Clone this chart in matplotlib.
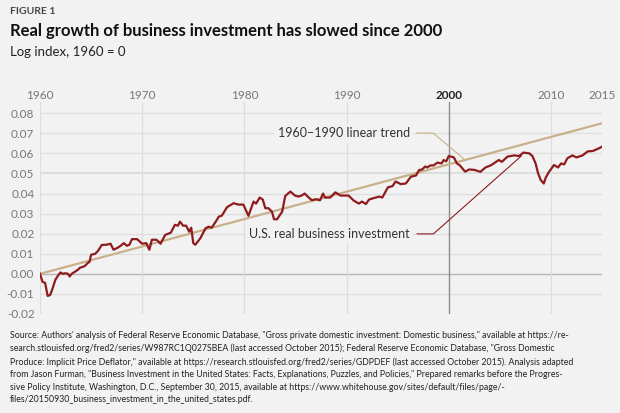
import matplotlib
matplotlib.use("Agg")
import matplotlib.pyplot as plt

plt.rcParams.update({
    "font.family": ["Lato", "DejaVu Sans"],
})

BG = "#f2f2f2"
RED = "#8e1b1e"
TAN = "#c9b08b"
GRID = "#dddddd"

# U.S. real business investment, log index (1960 = 0)
YEARS = [
    1960.0, 1960.25, 1960.5, 1960.75, 1961.0, 1961.25, 1961.5, 1961.75,
    1962.0, 1962.25, 1962.5, 1962.75, 1962.9, 1963.1, 1963.4, 1963.7,
    1963.9, 1964.2, 1964.4, 1964.7, 1964.85, 1965.0, 1965.4, 1965.7,
    1966.05, 1966.5, 1966.9, 1967.2, 1967.6, 1967.9, 1968.2, 1968.5,
    1968.75, 1969.0, 1969.5, 1970.0, 1970.4, 1970.7, 1970.95, 1971.4,
    1971.8, 1972.25, 1972.8, 1973.2, 1973.5, 1973.7, 1974.0, 1974.3,
    1974.5, 1974.6, 1974.8, 1975.0, 1975.2, 1975.5, 1975.7, 1976.2,
    1976.5, 1976.8, 1977.2, 1977.5, 1977.8, 1978.3, 1978.95, 1979.4,
    1979.9, 1980.4, 1980.9, 1981.15, 1981.5, 1981.8, 1982.05, 1982.35,
    1982.7, 1982.9, 1983.2, 1983.7, 1984.0, 1984.5, 1984.95, 1985.3,
    1985.6, 1985.9, 1986.2, 1986.6, 1987.0, 1987.4, 1987.7, 1987.9,
    1988.4, 1988.9, 1989.4, 1990.2, 1990.7, 1991.2, 1991.5, 1991.9,
    1992.2, 1992.7, 1993.2, 1993.5, 1994.05, 1994.5, 1994.8, 1995.3,
    1995.8, 1996.3, 1996.8, 1997.1, 1997.4, 1997.7, 1997.9, 1998.2,
    1998.5, 1998.9, 1999.3, 1999.5, 1999.75, 2000.0, 2000.5, 2000.8,
    2001.1, 2001.6, 2002.0, 2002.5, 2003.1, 2003.6, 2004.1, 2004.4,
    2004.9, 2005.2, 2005.75, 2006.4, 2006.9, 2007.3, 2007.9, 2008.2,
    2008.5, 2008.75, 2009.0, 2009.3, 2009.5, 2009.8, 2010.3, 2010.7,
    2011.0, 2011.3, 2011.6, 2012.1, 2012.5, 2013.1, 2013.6, 2014.1,
    2014.6, 2015.0,
]
INVEST = [
    0.000, -0.004, -0.0045, -0.011, -0.0105, -0.007, -0.003, -0.001,
    0.0007, 0.000, 0.0003, 0.000, -0.0013, 0.000, 0.001, 0.002,
    0.003, 0.0035, 0.004, 0.0055, 0.006, 0.0095, 0.010, 0.0116,
    0.0144, 0.0145, 0.015, 0.012, 0.013, 0.014, 0.0153, 0.014,
    0.0145, 0.0173, 0.0173, 0.015, 0.0153, 0.012, 0.017, 0.017,
    0.015, 0.0194, 0.0205, 0.0244, 0.024, 0.026, 0.024, 0.024,
    0.022, 0.021, 0.023, 0.0153, 0.0145, 0.0165, 0.0178, 0.0227,
    0.0235, 0.023, 0.026, 0.0285, 0.029, 0.0332, 0.0352, 0.0345,
    0.0345, 0.0289, 0.036, 0.035, 0.038, 0.037, 0.0327, 0.0327,
    0.031, 0.0272, 0.0272, 0.031, 0.0388, 0.041, 0.039, 0.0385,
    0.039, 0.040, 0.0385, 0.0367, 0.0372, 0.0366, 0.040, 0.038,
    0.038, 0.0406, 0.039, 0.039, 0.0365, 0.035, 0.036, 0.0348,
    0.037, 0.0378, 0.0385, 0.038, 0.0431, 0.0437, 0.046, 0.0447,
    0.045, 0.0484, 0.049, 0.0517, 0.052, 0.0535, 0.053, 0.054,
    0.054, 0.0554, 0.055, 0.0567, 0.056, 0.0587, 0.058, 0.055,
    0.054, 0.0509, 0.052, 0.0518, 0.0508, 0.053, 0.054, 0.055,
    0.0567, 0.0558, 0.0584, 0.059, 0.0587, 0.0604, 0.060, 0.0586,
    0.055, 0.050, 0.0468, 0.045, 0.048, 0.0507, 0.0542, 0.053,
    0.055, 0.0545, 0.0575, 0.059, 0.058, 0.059, 0.061, 0.0612,
    0.0623, 0.0633,
]

# 1960-1990 linear trend, extended to 2015
TREND_YEARS = [1960, 2015]
TREND = [0.0, 0.075]

X_TICKS = [1960, 1970, 1980, 1990, 2000, 2010, 2015]
Y_TICKS = [-0.02, -0.01, 0.00, 0.01, 0.02, 0.03, 0.04, 0.05, 0.06, 0.07, 0.08]

SOURCE = (
    "Source: Authors' analysis of Federal Reserve Economic Database, \"Gross private domestic investment: Domestic business,\" available at https://re-\n"
    "search.stlouisfed.org/fred2/series/W987RC1Q027SBEA (last accessed October 2015); Federal Reserve Economic Database, \"Gross Domestic\n"
    "Produce: Implicit Price Deflator,\" available at https://research.stlouisfed.org/fred2/series/GDPDEF (last accessed October 2015). Analysis adapted\n"
    "from Jason Furman, \"Business Investment in the United States: Facts, Explanations, Puzzles, and Policies,\" Prepared remarks before the Progres-\n"
    "sive Policy Institute, Washington, D.C., September 30, 2015, available at https://www.whitehouse.gov/sites/default/files/page/-\n"
    "files/20150930_business_investment_in_the_united_states.pdf."
)

fig = plt.figure(figsize=(6.2, 4.13), dpi=100, facecolor=BG)
ax = fig.add_axes([40 / 620, 1 - 314 / 413, 562 / 620, 212 / 413])
ax.set_facecolor(BG)

ax.set_xlim(1960, 2015)
ax.set_ylim(-0.02, 0.0856)

# grid
for y in Y_TICKS:
    if y == 0:
        ax.axhline(y, color="#b5b5b5", lw=1.0, zorder=1)
    else:
        ax.axhline(y, color=GRID, lw=1.4 if abs(y - 0.05) < 1e-9 else 0.9,
                   zorder=1)
for x in X_TICKS:
    ax.axvline(x, color="#8c8c8c" if x == 2000 else GRID,
               lw=1.0 if x == 2000 else 0.9, zorder=1)

ax.plot(TREND_YEARS, TREND, color=TAN, lw=1.6, zorder=3,
        solid_capstyle="butt")
ax.plot(YEARS, INVEST, color=RED, lw=1.6, zorder=4, solid_joinstyle="round")

# annotations
ax.plot([1996.9, 1998.5, 2001.6], [0.0701, 0.0701, 0.0567], color=TAN,
        lw=0.8, zorder=3)
ax.text(1996.2, 0.0701, "1960\u20131990 linear trend", ha="right",
        va="center", fontsize=9, color="#333333", zorder=5,
        bbox=dict(facecolor=BG, edgecolor="none", pad=2.5))
ax.plot([1996.9, 1998.5, 2007.1], [0.0199, 0.0199, 0.0587], color=RED,
        lw=0.8, zorder=3)
ax.text(1996.2, 0.0199, "U.S. real business investment", ha="right",
        va="center", fontsize=9, color="#333333", zorder=5,
        bbox=dict(facecolor=BG, edgecolor="none", pad=2.5))

for s in ax.spines.values():
    s.set_visible(False)
ax.xaxis.tick_top()
ax.set_xticks(X_TICKS)
ax.set_xticklabels([str(x) for x in X_TICKS])
ax.set_yticks(Y_TICKS)
ax.set_yticklabels([f"{y:.2f}" for y in Y_TICKS])
ax.tick_params(length=0, labelsize=8.5, labelcolor="#777777")
ax.tick_params(axis="x", pad=0.5)
ax.tick_params(axis="y", pad=4)
for lab in ax.get_xticklabels():
    if lab.get_text() == "2000":
        lab.set_color("#222222")
        lab.set_fontweight("bold")

fig.text(10 / 620, 1 - 12 / 413, "FIGURE 1", fontsize=7.5, fontweight="bold",
         color="#444444", va="center")
fig.text(10 / 620, 1 - 31 / 413,
         "Real growth of business investment has slowed since 2000",
         fontsize=12, fontweight="bold", color="#111111", va="center")
fig.text(10 / 620, 1 - 52 / 413, "Log index, 1960 = 0", fontsize=9.5,
         color="#222222", va="center")
fig.text(10 / 620, 1 - 331 / 413, SOURCE, fontsize=6.3, color="#222222",
         va="top", linespacing=1.5)

fig.savefig("out.png", dpi=100, facecolor=BG)
